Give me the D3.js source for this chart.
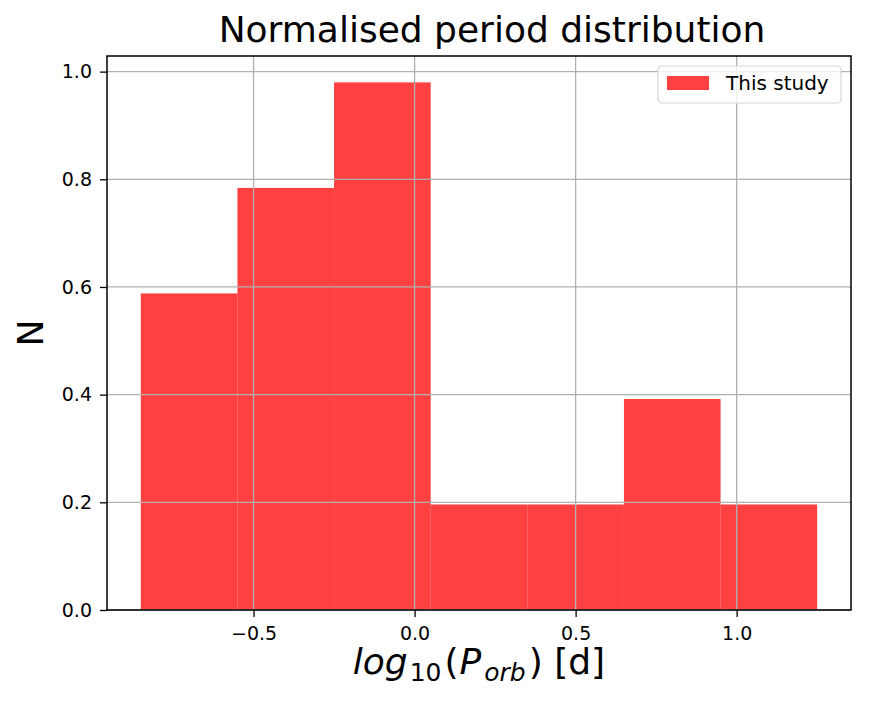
<!DOCTYPE html>
<html>
<head>
<meta charset="utf-8">
<script src="https://cdn.jsdelivr.net/npm/d3@7"></script>
<style>
  body { margin: 0; background: #fff; }
  svg { display: block; font-family: "DejaVu Sans", sans-serif; }
</style>
</head>
<body>
<svg id="chart"></svg>
<script>
// histogram bins (log10 P_orb [d]) and normalised heights
const binEdges = [-0.85, -0.55, -0.25, 0.05, 0.35, 0.65, 0.95, 1.25];
const binHeights = [0.588, 0.784, 0.980, 0.196, 0.196, 0.392, 0.196];
const xTicks = [-0.5, 0.0, 0.5, 1.0];
const yTicks = [0.0, 0.2, 0.4, 0.6, 0.8, 1.0];
const seriesName = 'This study';

const width = 874, height = 706;
const margin = { top: 56, right: 23, bottom: 96, left: 107 };

const svg = d3.select('#chart')
    .attr('width', width)
    .attr('height', height);

const x = d3.scaleLinear()
    .domain([-0.955, 1.355])
    .range([margin.left, width - margin.right]);

const y = d3.scaleLinear()
    .domain([0, 1.029])
    .range([height - margin.bottom, margin.top]);

const bins = binHeights.map((h, i) => ({ x0: binEdges[i], x1: binEdges[i + 1], h: h }));

// Bars
svg.append('g')
    .selectAll('rect')
    .data(bins)
    .join('rect')
    .attr('x', d => x(d.x0))
    .attr('y', d => y(d.h))
    .attr('width', d => x(d.x1) - x(d.x0))
    .attr('height', d => y(0) - y(d.h))
    .attr('fill', 'red')
    .attr('fill-opacity', 0.75);

// Grid (drawn above bars like the original)
const grid = svg.append('g');
grid.selectAll('line.gx')
    .data(xTicks)
    .join('line')
    .attr('class', 'gx')
    .attr('x1', d => x(d)).attr('x2', d => x(d))
    .attr('y1', y.range()[0]).attr('y2', y.range()[1])
    .attr('stroke', '#b0b0b0')
    .attr('stroke-width', 1.3);
grid.selectAll('line.gy')
    .data(yTicks)
    .join('line')
    .attr('class', 'gy')
    .attr('x1', x.range()[0]).attr('x2', x.range()[1])
    .attr('y1', d => y(d)).attr('y2', d => y(d))
    .attr('stroke', '#b0b0b0')
    .attr('stroke-width', 1.3);

// Axes
const xAxis = svg.append('g')
    .attr('transform', `translate(0,${y(0)})`)
    .call(d3.axisBottom(x).tickValues(xTicks).tickFormat(d3.format('.1f')).tickSize(7).tickPadding(10));
const yAxis = svg.append('g')
    .attr('transform', `translate(${x.range()[0]},0)`)
    .call(d3.axisLeft(y).tickValues(yTicks).tickFormat(d3.format('.1f')).tickSize(7).tickPadding(8));

[xAxis, yAxis].forEach(g => {
    g.attr('font-size', null).attr('font-family', null);
    g.select('.domain').remove();
    g.selectAll('.tick line').attr('stroke', '#000').attr('stroke-width', 1.3);
    g.selectAll('.tick text')
        .style('font-size', '19px')
        .style('font-family', '"DejaVu Sans", sans-serif')
        .attr('fill', '#000');
});

// Frame
svg.append('rect')
    .attr('x', x.range()[0])
    .attr('y', y.range()[1])
    .attr('width', x.range()[1] - x.range()[0])
    .attr('height', y.range()[0] - y.range()[1])
    .attr('fill', 'none')
    .attr('stroke', '#000')
    .attr('stroke-width', 1.5);

// Title
svg.append('text')
    .attr('x', (x.range()[0] + x.range()[1]) / 2 + 13)
    .attr('y', 42)
    .attr('text-anchor', 'middle')
    .style('font-size', '36px')
    .text('Normalised period distribution');

// Y label
svg.append('text')
    .attr('transform', `translate(43,${(y.range()[0] + y.range()[1]) / 2}) rotate(-90)`)
    .attr('text-anchor', 'middle')
    .style('font-size', '36px')
    .text('N');

// X label (mathtext style)
const xl = svg.append('text')
    .attr('x', (x.range()[0] + x.range()[1]) / 2)
    .attr('y', 674)
    .attr('text-anchor', 'middle')
    .style('font-size', '36px');
xl.append('tspan').attr('font-style', 'italic').text('log');
xl.append('tspan').style('font-size', '25px').attr('dx', 2).attr('dy', 7).text('10');
xl.append('tspan').attr('dx', 3).attr('dy', -7).text('(');
xl.append('tspan').attr('dx', 1).attr('font-style', 'italic').text('P');
xl.append('tspan').attr('font-style', 'italic').style('font-size', '25px').attr('dx', 3).attr('dy', 7).text('orb');
xl.append('tspan').attr('dx', 3).attr('dy', -7).text(') [d]');

// Legend
const lg = svg.append('g').attr('transform', 'translate(658,66)');
lg.append('rect')
    .attr('width', 183).attr('height', 37)
    .attr('rx', 4)
    .attr('fill', 'rgba(255,255,255,0.8)')
    .attr('stroke', '#d6d6d6')
    .attr('stroke-width', 1.2);
lg.append('rect')
    .attr('x', 9).attr('y', 10)
    .attr('width', 42).attr('height', 14)
    .attr('fill', 'red')
    .attr('fill-opacity', 0.75);
lg.append('text')
    .attr('x', 68).attr('y', 24)
    .style('font-size', '20px')
    .text(seriesName);
</script>
</body>
</html>
